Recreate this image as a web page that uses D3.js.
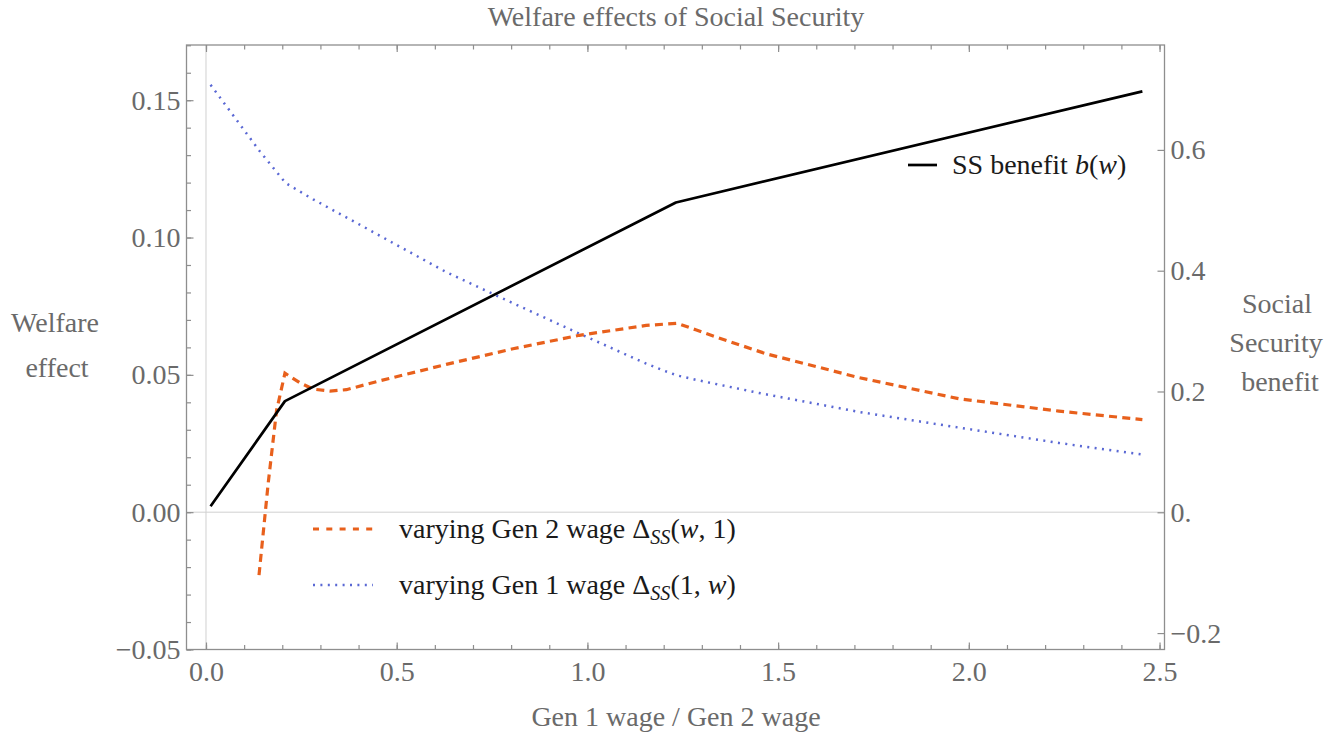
<!DOCTYPE html>
<html>
<head>
<meta charset="utf-8">
<script src="https://cdn.jsdelivr.net/npm/d3@7"></script>
<style>
  html, body { margin: 0; padding: 0; background: #fff; }
  svg { display: block; }
  text { font-family: "Liberation Serif", "Times New Roman", serif; }
</style>
</head>
<body>
<svg id="chart" width="1341" height="734"></svg>
<script>
// Wage ratio grid and the three curves
const benefitW   = [0.012, 0.207, 1.232, 2.455];
const benefitB   = [0.010, 0.184, 0.513, 0.697];

const gen2W      = [0.139, 0.163, 0.185, 0.207, 0.245, 0.281, 0.325, 0.368, 0.455, 0.630, 0.805, 0.979, 1.154, 1.235, 1.284, 1.337, 1.468, 1.712, 1.974, 2.236, 2.455];
const gen2Delta  = [-0.0229, 0.0104, 0.0370, 0.0506, 0.0472, 0.0448, 0.0441, 0.0446, 0.0478, 0.0538, 0.0595, 0.0644, 0.0680, 0.0688, 0.0664, 0.0638, 0.0577, 0.0490, 0.0413, 0.0368, 0.0337];

const gen1W      = [0.012, 0.141, 0.209, 0.281, 0.416, 0.455, 0.630, 0.761, 0.979, 1.154, 1.199, 1.235, 1.284, 1.450, 1.712, 1.974, 2.236, 2.454];
const gen1Delta  = [0.1556, 0.1314, 0.1198, 0.1139, 0.1037, 0.1007, 0.0874, 0.0789, 0.0650, 0.0541, 0.0516, 0.0498, 0.0482, 0.0434, 0.0365, 0.0308, 0.0252, 0.0210];

// Tick values and labels
const xMajorTicks = [0, 0.5, 1.0, 1.5, 2.0, 2.5];
const xTickLabels = ["0.0", "0.5", "1.0", "1.5", "2.0", "2.5"];
const leftMajorTicks = [-0.05, 0, 0.05, 0.10, 0.15];
const leftTickLabels = ["\u22120.05", "0.00", "0.05", "0.10", "0.15"];
const rightMajorTicks = [-0.2, 0, 0.2, 0.4, 0.6];
const rightTickLabels = ["\u22120.2", "0.", "0.2", "0.4", "0.6"];

const svg = d3.select("#chart");
const frame = { left: 186.5, right: 1164.5, top: 45, bottom: 649.5 };

const x = d3.scaleLinear().domain([-0.0511, 2.513]).range([frame.left, frame.right]);
const yL = d3.scaleLinear().domain([-0.05, 0.1701]).range([frame.bottom, frame.top]);
const yR = d3.scaleLinear().domain([-0.2272, 0.7737]).range([frame.bottom, frame.top]);

const frameColor = "#8e8e8e";
const labelColor = "#6a6a6a";
const fontSize = 28;
const serif = "'Liberation Serif', 'Times New Roman', serif";

// Zero reference lines
svg.append("line")
  .attr("x1", x(0)).attr("x2", x(0))
  .attr("y1", frame.top).attr("y2", frame.bottom)
  .attr("stroke", "#d0d0d0").attr("stroke-width", 1);
svg.append("line")
  .attr("x1", frame.left).attr("x2", frame.right)
  .attr("y1", yL(0)).attr("y2", yL(0))
  .attr("stroke", "#d0d0d0").attr("stroke-width", 1);

// Clip region for curves
svg.append("clipPath").attr("id", "plotClip")
  .append("rect")
  .attr("x", frame.left).attr("y", frame.top)
  .attr("width", frame.right - frame.left).attr("height", frame.bottom - frame.top);

const plot = svg.append("g").attr("clip-path", "url(#plotClip)");

const lineL = d3.line().x(d => x(d[0])).y(d => yL(d[1]));
const lineR = d3.line().x(d => x(d[0])).y(d => yR(d[1]));

const blue = "#5a68d4";
const orange = "#e8601c";

plot.append("path")
  .datum(gen1W.map((w, i) => [w, gen1Delta[i]]))
  .attr("d", lineL)
  .attr("fill", "none")
  .attr("stroke", blue)
  .attr("stroke-width", 2.5)
  .attr("stroke-dasharray", "2,5.4");

plot.append("path")
  .datum(gen2W.map((w, i) => [w, gen2Delta[i]]))
  .attr("d", lineL)
  .attr("fill", "none")
  .attr("stroke", orange)
  .attr("stroke-width", 3.2)
  .attr("stroke-dasharray", "8,5.3");

plot.append("path")
  .datum(benefitW.map((w, i) => [w, benefitB[i]]))
  .attr("d", lineR)
  .attr("fill", "none")
  .attr("stroke", "#000")
  .attr("stroke-width", 2.7)
  .attr("stroke-linejoin", "round");

// Axes: inward-pointing ticks on a framed plot
function styleAxis(g) {
  g.attr("font-family", serif);
  g.select(".domain").remove();
  g.selectAll(".tick line").attr("stroke", frameColor).attr("stroke-width", 1.2);
  g.selectAll(".tick text")
    .attr("fill", labelColor)
    .style("font-size", fontSize + "px")
    .style("font-family", serif);
}

const xMinor = d3.range(0, 2.51, 0.1).map(v => +v.toFixed(2));
const leftMinor = d3.range(-0.05, 0.1701, 0.01).map(v => +v.toFixed(3));

// bottom
svg.append("g").attr("transform", `translate(0,${frame.bottom})`)
  .call(d3.axisBottom(x).tickValues(xMinor).tickSize(-4.5).tickFormat("")).call(styleAxis);
svg.append("g").attr("transform", `translate(0,${frame.bottom})`)
  .call(d3.axisBottom(x).tickValues(xMajorTicks).tickSize(-7).tickPadding(12)
        .tickFormat((d, i) => xTickLabels[i])).call(styleAxis);
// top
svg.append("g").attr("transform", `translate(0,${frame.top})`)
  .call(d3.axisTop(x).tickValues(xMinor).tickSize(-4.5).tickFormat("")).call(styleAxis);
svg.append("g").attr("transform", `translate(0,${frame.top})`)
  .call(d3.axisTop(x).tickValues(xMajorTicks).tickSize(-7).tickFormat("")).call(styleAxis);
// left
svg.append("g").attr("transform", `translate(${frame.left},0)`)
  .call(d3.axisLeft(yL).tickValues(leftMinor).tickSize(-4.5).tickFormat("")).call(styleAxis);
svg.append("g").attr("transform", `translate(${frame.left},0)`)
  .call(d3.axisLeft(yL).tickValues(leftMajorTicks).tickSize(-7).tickPadding(6)
        .tickFormat((d, i) => leftTickLabels[i])).call(styleAxis);
// right
svg.append("g").attr("transform", `translate(${frame.right},0)`)
  .call(d3.axisRight(yR).tickValues(rightMajorTicks).tickSize(-7).tickPadding(6)
        .tickFormat((d, i) => rightTickLabels[i])).call(styleAxis);

// Frame
svg.append("rect")
  .attr("x", frame.left).attr("y", frame.top)
  .attr("width", frame.right - frame.left).attr("height", frame.bottom - frame.top)
  .attr("fill", "none").attr("stroke", frameColor).attr("stroke-width", 1.3);

// Title and axis labels
function label(txt, cx, by) {
  return svg.append("text").attr("x", cx).attr("y", by)
    .attr("text-anchor", "middle").attr("fill", labelColor)
    .style("font-family", serif)
    .style("font-size", fontSize + "px").text(txt);
}
label("Welfare effects of Social Security", 676, 26);
label("Gen 1 wage / Gen 2 wage", 676, 726);
label("Welfare", 55, 332);
label("effect", 57, 377);
label("Social", 1277, 313);
label("Security", 1276, 352);
label("benefit", 1280, 391);

// Legends
const legendText = "#1a1a1a";
function mathLegend(g, tx, by, parts) {
  const t = g.append("text").attr("x", tx).attr("y", by)
    .attr("fill", legendText)
    .style("font-family", serif)
    .style("font-size", fontSize + "px");
  parts.forEach(p => {
    const s = t.append("tspan").text(p.t);
    if (p.i) s.style("font-style", "italic");
    if (p.sub) s.style("font-size", (fontSize * 0.72) + "px").attr("dy", 6);
    if (p.up) s.attr("dy", -6);
  });
  return t;
}

const legTop = svg.append("g");
legTop.append("line").attr("x1", 908).attr("x2", 937).attr("y1", 165).attr("y2", 165)
  .attr("stroke", "#000").attr("stroke-width", 2.7);
mathLegend(legTop, 952, 174, [
  { t: "SS benefit " }, { t: "b", i: true }, { t: "(" }, { t: "w", i: true }, { t: ")" }
]);

const legBottom = svg.append("g");
legBottom.append("line").attr("x1", 313).attr("x2", 373).attr("y1", 529).attr("y2", 529)
  .attr("stroke", orange).attr("stroke-width", 3.2).attr("stroke-dasharray", "6,7.3");
mathLegend(legBottom, 399, 538, [
  { t: "varying Gen 2 wage \u0394" }, { t: "SS", i: true, sub: true },
  { t: "(", up: true }, { t: "w", i: true }, { t: ", 1)" }
]);
legBottom.append("line").attr("x1", 313).attr("x2", 373).attr("y1", 585).attr("y2", 585)
  .attr("stroke", blue).attr("stroke-width", 2.5).attr("stroke-dasharray", "2,5.4");
mathLegend(legBottom, 399, 594, [
  { t: "varying Gen 1 wage \u0394" }, { t: "SS", i: true, sub: true },
  { t: "(1, ", up: true }, { t: "w", i: true }, { t: ")" }
]);
</script>
</body>
</html>
